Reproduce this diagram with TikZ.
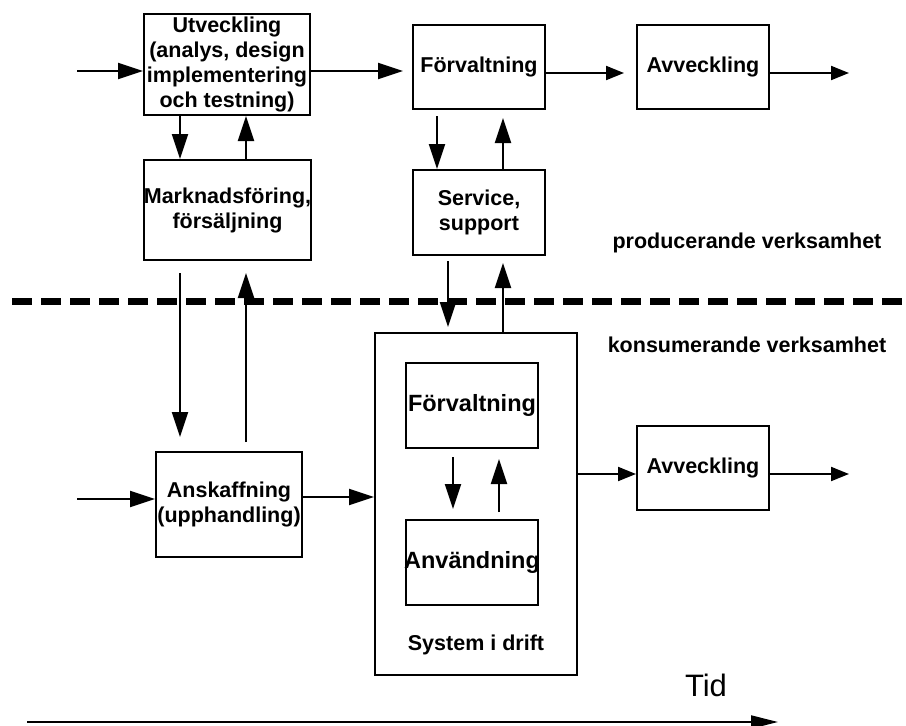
\documentclass[tikz,border=0pt]{standalone}
\usepackage{fontspec}
\setmainfont{Liberation Sans}
\usetikzlibrary{arrows.meta,calc}
\begin{document}
\begin{tikzpicture}[x=1pt,y=-1pt,
  box/.style={draw,line width=2pt,rectangle,inner sep=0pt,align=center,
    font=\bfseries\fontsize{21.5}{25}\selectfont},
  lbl/.style={inner sep=0pt,align=center,font=\bfseries\fontsize{21.5}{25}\selectfont},
  ilbl/.style={inner sep=0pt,font=\bfseries\fontsize{23.5}{27}\selectfont},
  conn/.style={line width=2pt},
  big/.style={conn,-{Triangle[length=25pt,width=16pt]}},
  small/.style={conn,-{Triangle[length=18pt,width=14pt]}},
  timearrow/.style={conn,-{Triangle[length=27pt,width=13pt]}},
  divider/.style={line width=7pt,dash pattern=on 20pt off 9pt}]
\useasboundingbox (0,0) rectangle (906,726);

% producing side
\node[box,minimum width=166pt,minimum height=101pt] (utv) at (227,64.5)
  {Utveckling\\(analys, design\\implementering\\och testning)};
\node[box,minimum width=167pt,minimum height=100pt] (mk) at (227.5,210) {};
\node[lbl] (mkT) at (mk.center) {Marknadsföring,\\försäljning};
\node[box,minimum width=132pt,minimum height=84pt] (fv) at (479,67) {Förvaltning};
\node[box,minimum width=132pt,minimum height=84pt] (avT) at (703,67) {Avveckling};
\node[box,minimum width=132pt,minimum height=85pt] (svc) at (479,212.5) {Service,\\support};

% consuming side
\node[box,minimum width=146pt,minimum height=105pt] (ansk) at (229,504.5) {};
\node[lbl] (anskT) at (ansk.center) {Anskaffning\\(upphandling)};
\node[box,minimum width=202pt,minimum height=342pt] (sys) at (476,504) {};
\node[box,minimum width=132pt,minimum height=85pt] (ifv) at (472,405.5) {};
\node[ilbl] (ifvT) at (ifv.center) {Förvaltning};
\node[box,minimum width=132pt,minimum height=85pt] (anv) at (472,562.5) {};
\node[ilbl] (anvT) at (anv.center) {Användning};
\node[lbl] (drift) at (476,645) {System i drift};
\node[box,minimum width=132pt,minimum height=84pt] (avB) at (703,468) {Avveckling};

% boundary between the two sides
\coordinate (d0) at (12,301);
\coordinate (d1) at (906,301);
\draw[divider] (d0) -- (d1);
\node[lbl] (prod) at (747,243) {producerande verksamhet};
\node[lbl] (kons) at (747,345) {konsumerande verksamhet};

% x positions of the vertical links
\coordinate (xa) at (180,0);
\coordinate (xb) at (246,0);
\coordinate (xc) at (437,0);
\coordinate (xd) at (503,0);
\coordinate (xe) at (448,0);
\coordinate (xf) at (453,0);
\coordinate (xg) at (499,0);

% top row flow
\coordinate (inA) at (77,71);
\draw[big] (inA) -- (inA -| utv.west);
\draw[big,shorten >=9pt] ($(utv.east)+(0,6.5)$) -- ($(fv.west)+(0,4)$);
\draw[small,shorten >=12pt] ($(fv.east)+(0,6)$) -- ($(avT.west)+(0,6)$);
\coordinate (outA) at (849,73);
\draw[small] (outA -| avT.east) -- (outA);

% vertical links, producing side
\draw[big] (utv.south -| xa) -- (mk.north -| xa);
\draw[big] (mk.north -| xb) -- (utv.south -| xb);
\draw[big,shorten <=6pt] (fv.south -| xc) -- (svc.north -| xc);
\draw[big,shorten >=8pt] (svc.north -| xd) -- (fv.south -| xd);

% links across the boundary
\draw[big,shorten <=5pt,shorten >=5pt] (svc.south -| xe) -- (sys.north -| xe);
\draw[big,shorten >=7pt] (sys.north -| xd) -- (svc.south -| xd);
\draw[big,shorten <=12pt,shorten >=14pt] (mk.south -| xa) -- (ansk.north -| xa);
\draw[big,shorten <=9pt,shorten >=12pt] (ansk.north -| xb) -- (mk.south -| xb);

% bottom row flow
\coordinate (inB) at (77,499);
\draw[big] (inB) -- (inB -| ansk.west);
\draw[big] ($(ansk.east)+(0,-7.5)$) -- ($(sys.west)+(0,-7)$);
\draw[big,shorten <=8pt,shorten >=10pt] (ifv.south -| xf) -- (anv.north -| xf);
\draw[big,shorten <=7pt,shorten >=10pt] (anv.north -| xg) -- (ifv.south -| xg);
\draw[small] ($(sys.east)+(0,-30)$) -- ($(avB.west)+(0,6)$);
\coordinate (outB) at (849,474);
\draw[small] (outB -| avB.east) -- (outB);

% time axis
\node[inner sep=0pt,font=\fontsize{31}{36}\selectfont] (tid) at (706,685) {Tid};
\coordinate (t0) at (27,722);
\coordinate (t1) at (778,722);
\draw[timearrow] (t0) -- (t1);
\end{tikzpicture}
\end{document}
